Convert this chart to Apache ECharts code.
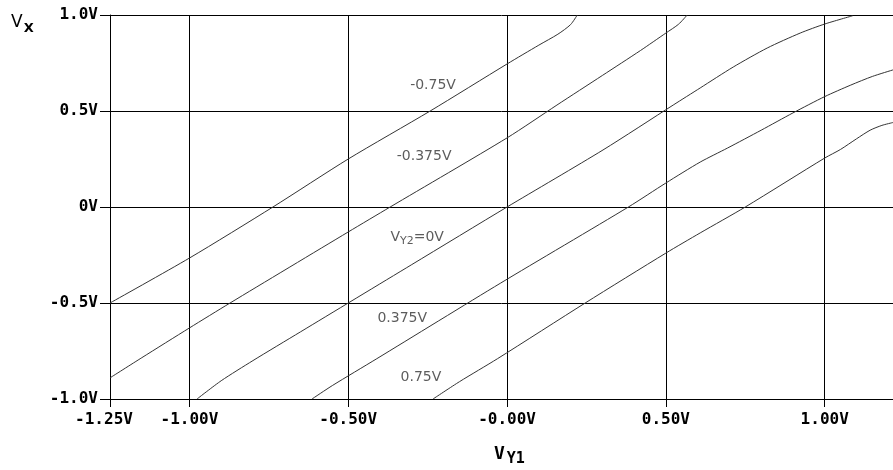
<!DOCTYPE html>
<html>
<head>
<meta charset="utf-8">
<script src="https://cdn.jsdelivr.net/npm/echarts@6/dist/echarts.min.js"></script>
<style>html,body{margin:0;padding:0;background:#fff;}#c{width:893px;height:470px;}</style>
</head>
<body>
<div id="c"></div>
<script>
// Curves: V_X vs V_Y1 for each V_Y2
const curveNames = ['-0.75V', '-0.375V', 'V_Y2=0V', '0.375V', '0.75V'];
const curveM075 = [[-1.25,-0.5],[-1.0,-0.266],[-0.737,0],[-0.5,0.25],[-0.242,0.5],[0,0.745],[0.1,0.843],[0.16,0.9],[0.2,0.95],[0.221,1.0]];
const curveM0375 = [[-1.25,-0.89],[-1.15,-0.785],[-1.0,-0.63],[-0.872,-0.5],[-0.5,-0.13],[-0.368,0],[0,0.36],[0.157,0.531],[0.3,0.685],[0.42,0.815],[0.5,0.906],[0.54,0.952],[0.567,1.0]];
const curve0 = [[-0.976,-1.0],[-0.9,-0.905],[-0.8,-0.8],[-0.65,-0.65],[-0.3,-0.3],[0,0],[0.302,0.297],[0.523,0.531],[0.608,0.62],[0.712,0.729],[0.819,0.828],[0.923,0.906],[1.0,0.953],[1.088,0.996]];
const curveP0375 = [[-0.614,-1.0],[-0.55,-0.93],[-0.41,-0.79],[-0.02,-0.396],[0.382,0],[0.5,0.125],[0.608,0.234],[0.694,0.307],[0.8,0.40],[0.9,0.49],[1.0,0.575],[1.082,0.635],[1.15,0.68],[1.215,0.714]];
const curveP075 = [[-0.233,-1.0],[-0.15,-0.91],[-0.03,-0.79],[0.246,-0.5],[0.5,-0.24],[0.608,-0.135],[0.75,0],[1.0,0.255],[1.05,0.30],[1.1,0.355],[1.143,0.40],[1.18,0.425],[1.215,0.44]];
const curves = [curveM075, curveM0375, curve0, curveP0375, curveP075];

// Curve label anchor points (data coords)
const curveLabelX = [-0.233, -0.261, -0.283, -0.33, -0.271];
const curveLabelY = [0.63, 0.26, -0.161, -0.583, -0.89];

// Axis ticks
const xTicks = [-1.25, -1.0, -0.5, 0, 0.5, 1.0];
const xTickLabels = ['-1.25V', '-1.00V', '-0.50V', '-0.00V', '0.50V', '1.00V'];
const yTicks = [-1.0, -0.5, 0, 0.5, 1.0];
const yTickLabels = ['-1.0V', '-0.5V', '0V', '0.5V', '1.0V'];

const chart = echarts.init(document.getElementById('c'), null, {renderer: 'canvas'});

function lookup(ticks, labels, v) {
  for (let i = 0; i < ticks.length; i++) if (Math.abs(ticks[i] - v) < 1e-6) return labels[i];
  return '';
}

const axisFont = {fontFamily: 'DejaVu Sans Mono', fontWeight: 'bold', fontSize: 16, color: '#000'};
const lineSeries = curves.map((d, i) => ({
  type: 'line', name: curveNames[i], data: d, showSymbol: false, smooth: 0.25,
  lineStyle: {color: '#333', width: 1}, silent: true, z: 3
}));

const labelData = curveNames.map((n, i) => ({value: [curveLabelX[i], curveLabelY[i]], name: n}));

chart.setOption({
  animation: false,
  backgroundColor: '#fff',
  grid: {left: 110, right: 0, top: 15, bottom: 71, containLabel: false},
  xAxis: {
    type: 'value', min: -1.25, max: 1.215,
    axisLine: {show: true, onZero: false, lineStyle: {color: '#000', width: 1}},
    axisTick: {show: true, customValues: xTicks, length: 8, lineStyle: {color: '#000'}},
    axisLabel: Object.assign({
      customValues: xTicks, margin: 13,
      formatter: v => {
        const t = lookup(xTicks, xTickLabels, v);
        return v === xTicks[0] ? '{f|' + t + '}' : t;
      },
      rich: {f: {fontFamily: 'DejaVu Sans Mono', fontWeight: 'bold', fontSize: 16, color: '#000', padding: [0, 12, 0, 0]}}
    }, axisFont),
    splitLine: {show: true, lineStyle: {color: '#000', width: 1}}
  },
  yAxis: {
    type: 'value', min: -1, max: 1, interval: 0.5,
    axisLine: {show: true, onZero: false, lineStyle: {color: '#000', width: 1}},
    axisTick: {show: true, length: 10, lineStyle: {color: '#000'}},
    axisLabel: Object.assign({margin: 12, formatter: v => lookup(yTicks, yTickLabels, v)}, axisFont),
    splitLine: {show: true, lineStyle: {color: '#000', width: 1}}
  },
  series: lineSeries.concat([{
    type: 'scatter', data: labelData, symbolSize: 0, silent: true, z: 5,
    label: {
      show: true, position: 'inside', color: '#333', fontFamily: 'DejaVu Sans', fontSize: 14,
      formatter: p => p.name === 'V_Y2=0V' ? '{a|V}{s|Y2}{a|=0V}' : '{a|' + p.name + '}',
      rich: {
        a: {fontFamily: 'DejaVu Sans', fontSize: 14, color: '#333', lineHeight: 16, verticalAlign: 'top'},
        s: {fontFamily: 'DejaVu Sans', fontSize: 11, color: '#333', lineHeight: 12, verticalAlign: 'top', padding: [6, 0, 0, 0]}
      }
    }
  }]),
  graphic: [
    {type: 'text', left: 11, top: 14, style: {
      text: '{v|V}{s|X}', rich: {
        v: {fontFamily: 'DejaVu Sans', fontSize: 17, fill: '#000', lineHeight: 18, verticalAlign: 'top'},
        s: {fontFamily: 'DejaVu Sans', fontWeight: 'bold', fontSize: 13, fill: '#000', lineHeight: 13, verticalAlign: 'top', padding: [8, 0, 0, 1]}
      }}},
    {type: 'text', left: 494, top: 445, style: {
      text: '{v|V}{s|Y1}', rich: {
        v: {fontFamily: 'DejaVu Sans Mono', fontWeight: 'bold', fontSize: 18, fill: '#000', lineHeight: 19, verticalAlign: 'top'},
        s: {fontFamily: 'DejaVu Sans Mono', fontWeight: 'bold', fontSize: 15, fill: '#000', lineHeight: 15, verticalAlign: 'top', padding: [7, 0, 0, 2]}
      }}}
  ]
});
</script>
</body>
</html>
